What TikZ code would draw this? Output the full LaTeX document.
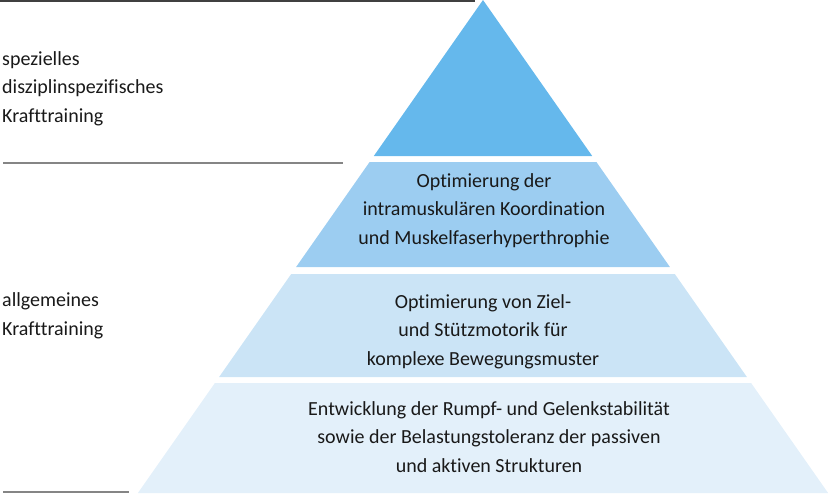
\documentclass[tikz,border=0pt]{standalone}
\usepackage{fontspec}
\setmainfont[RawFeature={-liga}]{Carlito}
\definecolor{cA}{HTML}{65B8EC}
\definecolor{cB}{HTML}{9CCDF1}
\definecolor{cC}{HTML}{CBE4F6}
\definecolor{cD}{HTML}{E3F0FA}
\definecolor{lineA}{HTML}{404040}
\definecolor{lineB}{HTML}{858585}
\begin{document}
\begin{tikzpicture}[x=1pt,y=-1pt,
  lbl/.style={font=\fontsize{20}{28.5}\selectfont, align=left, anchor=base west, inner sep=0pt, text=black!90},
  ctr/.style={font=\fontsize{20}{28.3}\selectfont, align=center, anchor=base, inner sep=0pt, text=black!90},
  sep/.style={line width=1.5pt}]
\useasboundingbox (0,0) rectangle (830,493);
\def\cx{483}
\def\sl{0.70}
% layers
\fill[cA] (\cx,0) -- ({\cx-\sl*156},156) -- ({\cx+\sl*156},156) -- cycle;
\fill[cB] ({\cx-\sl*162},162) -- ({\cx+\sl*162},162) -- ({\cx+\sl*267},267) -- ({\cx-\sl*267},267) -- cycle;
\fill[cC] ({\cx-\sl*274},274) -- ({\cx+\sl*274},274) -- ({\cx+\sl*377},377) -- ({\cx-\sl*377},377) -- cycle;
\fill[cD] ({\cx-\sl*383},383) -- ({\cx+\sl*383},383) -- ({\cx+\sl*493},493) -- ({\cx-\sl*493},493) -- cycle;
% separator lines
\coordinate (a1) at (0,1); \coordinate (a2) at (475,1);
\coordinate (b1) at (3,163); \coordinate (b2) at (343,163);
\coordinate (c1) at (3,492); \coordinate (c2) at (129,492);
\draw[sep,lineA] (a1) -- (a2);
\draw[sep,lineB] (b1) -- (b2);
\draw[sep,lineB] (c1) -- (c2);
% texts (anchor = baseline of last line)
\node[lbl] (t1) at (2,122) {spezielles\\disziplinspezifisches\\Krafttraining};
\node[lbl] (t2) at (2,335) {allgemeines\\Krafttraining};
\node[ctr] (t3) at (484,244) {Optimierung der\\intramuskulären Koordination\\und Muskelfaserhyperthrophie};
\node[ctr] (t4) at (483,365) {Optimierung von Ziel-\\und Stützmotorik für\\komplexe Bewegungsmuster};
\node[ctr] (t5) at (489,472) {Entwicklung der Rumpf- und Gelenkstabilität\\sowie der Belastungstoleranz der passiven\\und aktiven Strukturen};
\end{tikzpicture}
\end{document}
